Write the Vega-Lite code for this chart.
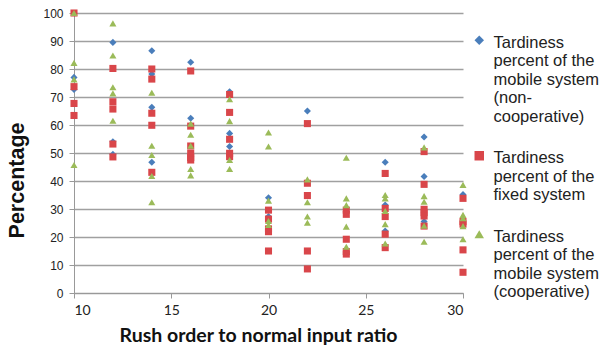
{
  "$schema": "https://vega.github.io/schema/vega-lite/v6.json",
  "autosize": {"type": "none"},
  "padding": {"left": 74, "top": 13, "right": 137, "bottom": 63},
  "width": 389,
  "height": 280,
  "background": "white",
  "config": {"view": {"stroke": null}, "style": {"guide-label": {"dy": -5.5}}},
  "data": {"values": [
    {"x":10,"y":77,"s":"B"},{"x":10,"y":72.7,"s":"B"},
    {"x":12,"y":89.5,"s":"B"},{"x":12,"y":54,"s":"B"},{"x":12,"y":49.5,"s":"B"},
    {"x":14,"y":86.5,"s":"B"},{"x":14,"y":78.2,"s":"B"},{"x":14,"y":66.3,"s":"B"},{"x":14,"y":46.7,"s":"B"},
    {"x":16,"y":82.4,"s":"B"},{"x":16,"y":62.4,"s":"B"},
    {"x":18,"y":71.9,"s":"B"},{"x":18,"y":57,"s":"B"},{"x":18,"y":52.3,"s":"B"},
    {"x":20,"y":34,"s":"B"},{"x":20,"y":27.3,"s":"B"},
    {"x":22,"y":65,"s":"B"},
    {"x":24,"y":29,"s":"B"},
    {"x":26,"y":46.7,"s":"B"},{"x":26,"y":31.4,"s":"B"},{"x":26,"y":22.1,"s":"B"},
    {"x":28,"y":55.7,"s":"B"},{"x":28,"y":41.6,"s":"B"},{"x":28,"y":25.5,"s":"B"},
    {"x":30,"y":35.2,"s":"B"},
    {"x":10,"y":100,"s":"R"},{"x":10,"y":73.7,"s":"R"},{"x":10,"y":67.7,"s":"R"},{"x":10,"y":63.4,"s":"R"},
    {"x":12,"y":80.2,"s":"R"},{"x":12,"y":68.3,"s":"R"},{"x":12,"y":65.7,"s":"R"},{"x":12,"y":53.2,"s":"R"},{"x":12,"y":48.6,"s":"R"},
    {"x":14,"y":80,"s":"R"},{"x":14,"y":76.4,"s":"R"},{"x":14,"y":64.2,"s":"R"},{"x":14,"y":59.9,"s":"R"},{"x":14,"y":43.1,"s":"R"},
    {"x":16,"y":79.3,"s":"R"},{"x":16,"y":59.6,"s":"R"},{"x":16,"y":52.5,"s":"R"},{"x":16,"y":49.9,"s":"R"},{"x":16,"y":48.4,"s":"R"},{"x":16,"y":47.5,"s":"R"},
    {"x":18,"y":70.9,"s":"R"},{"x":18,"y":64.5,"s":"R"},{"x":18,"y":54.9,"s":"R"},{"x":18,"y":49.9,"s":"R"},{"x":18,"y":48.7,"s":"R"},
    {"x":20,"y":29.6,"s":"R"},{"x":20,"y":26.4,"s":"R"},{"x":20,"y":22.9,"s":"R"},{"x":20,"y":21.9,"s":"R"},{"x":20,"y":15,"s":"R"},
    {"x":22,"y":60.5,"s":"R"},{"x":22,"y":39.2,"s":"R"},{"x":22,"y":34.8,"s":"R"},{"x":22,"y":15,"s":"R"},{"x":22,"y":8.6,"s":"R"},
    {"x":24,"y":29.6,"s":"R"},{"x":24,"y":28.1,"s":"R"},{"x":24,"y":19.2,"s":"R"},{"x":24,"y":14.8,"s":"R"},{"x":24,"y":13.9,"s":"R"},
    {"x":26,"y":42.7,"s":"R"},{"x":26,"y":30.2,"s":"R"},{"x":26,"y":27.3,"s":"R"},{"x":26,"y":21,"s":"R"},{"x":26,"y":16.2,"s":"R"},
    {"x":28,"y":50.5,"s":"R"},{"x":28,"y":38.8,"s":"R"},{"x":28,"y":29.9,"s":"R"},{"x":28,"y":28.7,"s":"R"},{"x":28,"y":27.5,"s":"R"},{"x":28,"y":23.9,"s":"R"},
    {"x":30,"y":33.8,"s":"R"},{"x":30,"y":25.5,"s":"R"},{"x":30,"y":24.6,"s":"R"},{"x":30,"y":15.4,"s":"R"},{"x":30,"y":7.4,"s":"R"},
    {"x":10,"y":100,"s":"G"},{"x":10,"y":82.2,"s":"G"},{"x":10,"y":76.3,"s":"G"},{"x":10,"y":45.7,"s":"G"},
    {"x":12,"y":96.3,"s":"G"},{"x":12,"y":84.8,"s":"G"},{"x":12,"y":73.5,"s":"G"},{"x":12,"y":71.3,"s":"G"},{"x":12,"y":61.5,"s":"G"},
    {"x":14,"y":71.5,"s":"G"},{"x":14,"y":52.6,"s":"G"},{"x":14,"y":49.3,"s":"G"},{"x":14,"y":41.8,"s":"G"},{"x":14,"y":32.4,"s":"G"},
    {"x":16,"y":60.5,"s":"G"},{"x":16,"y":56.5,"s":"G"},{"x":16,"y":52.6,"s":"G"},{"x":16,"y":44.3,"s":"G"},{"x":16,"y":42,"s":"G"},
    {"x":18,"y":69.2,"s":"G"},{"x":18,"y":61.4,"s":"G"},{"x":18,"y":47.5,"s":"G"},{"x":18,"y":44.3,"s":"G"},
    {"x":20,"y":57.3,"s":"G"},{"x":20,"y":52.3,"s":"G"},{"x":20,"y":33,"s":"G"},{"x":20,"y":25.7,"s":"G"},{"x":20,"y":24.3,"s":"G"},
    {"x":22,"y":40.6,"s":"G"},{"x":22,"y":32.4,"s":"G"},{"x":22,"y":27.3,"s":"G"},{"x":22,"y":25.1,"s":"G"},
    {"x":24,"y":48.3,"s":"G"},{"x":24,"y":33.8,"s":"G"},{"x":24,"y":31.4,"s":"G"},{"x":24,"y":23.7,"s":"G"},{"x":24,"y":16.5,"s":"G"},
    {"x":26,"y":35,"s":"G"},{"x":26,"y":33.8,"s":"G"},{"x":26,"y":29.3,"s":"G"},{"x":26,"y":24.6,"s":"G"},{"x":26,"y":17.7,"s":"G"},
    {"x":28,"y":52,"s":"G"},{"x":28,"y":34.6,"s":"G"},{"x":28,"y":32.6,"s":"G"},{"x":28,"y":24,"s":"G"},{"x":28,"y":18.3,"s":"G"},
    {"x":30,"y":38.6,"s":"G"},{"x":30,"y":27.9,"s":"G"},{"x":30,"y":26.7,"s":"G"},{"x":30,"y":23.9,"s":"G"},{"x":30,"y":19.2,"s":"G"}
  ]},
  "mark": {"type": "point", "filled": true, "opacity": 1, "size": 50},
  "encoding": {
    "x": {
      "field": "x", "type": "quantitative",
      "scale": {"domain": [10, 30], "nice": false, "zero": false},
      "axis": {
        "values": [10, 15, 20, 25, 30], "grid": false,
        "domainColor": "#999999", "tickColor": "#999999", "tickSize": 5,
        "labelFont": "Lato", "labelFontSize": 14, "labelColor": "#222222", "labelPadding": 10.5,
        "title": "Rush order to normal input ratio",
        "titleFont": "Lato", "titleFontSize": 19.5, "titleFontWeight": "bold", "titleColor": "#111111", "titlePadding": 9, "titleX": 184
      }
    },
    "y": {
      "field": "y", "type": "quantitative",
      "scale": {"domain": [0, 100], "nice": false},
      "axis": {
        "values": [0, 10, 20, 30, 40, 50, 60, 70, 80, 90, 100],
        "grid": true, "gridColor": "#a0a0a0", "gridWidth": 1.3,
        "domainColor": "#999999", "tickColor": "#999999", "tickSize": 5,
        "labelFont": "Liberation Sans", "labelFontSize": 12, "labelColor": "#222222", "labelPadding": 6, "labelOffset": 5.5,
        "title": "Percentage",
        "titleFont": "Liberation Sans", "titleFontSize": 21.5, "titleFontWeight": "bold", "titleColor": "#111111", "titlePadding": 14, "titleY": 167
      }
    },
    "color": {
      "field": "s", "type": "nominal",
      "scale": {"domain": ["B", "R", "G"], "range": ["#4A7EBB", "#D9464A", "#9BBB59"]},
      "legend": {
        "title": null, "orient": "right", "offset": -11, "padding": 19,
        "labelFont": "Liberation Sans", "labelFontSize": 16.5, "labelColor": "#222222", "labelOffset": 6,
        "labelBaseline": "top", "labelLimit": 200, "rowPadding": 21.5, "symbolSize": 90,
        "labelExpr": "datum.label == 'B' ? ['Tardiness', 'percent of the', 'mobile system', '(non-', 'cooperative)'] : datum.label == 'R' ? ['Tardiness', 'percent of the', 'fixed system'] : ['Tardiness', 'percent of the', 'mobile system', '(cooperative)']"
      }
    },
    "shape": {
      "field": "s", "type": "nominal",
      "scale": {"domain": ["B", "R", "G"], "range": ["diamond", "square", "triangle-up"]}
    }
  }
}
